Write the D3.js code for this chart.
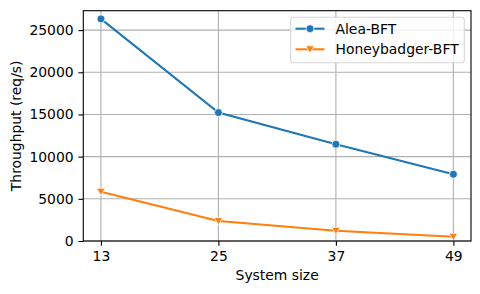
<!DOCTYPE html>
<html>
<head>
<meta charset="utf-8">
<script src="https://cdn.jsdelivr.net/npm/d3@7"></script>
<style>
  body { margin: 0; background: #fff; }
  svg text { font-family: "DejaVu Sans", sans-serif; }
  .tick text { font-size: 13.9px; fill: #000; }
  .grid line { stroke: #b0b0b0; stroke-width: 1.1; }
</style>
</head>
<body>
<div class="chart"></div>
<script>
const sizes = [13, 25, 37, 49]
const alea = [26330, 15220, 11470, 7910]
const honeybadger = [5850, 2370, 1220, 510]
const yTicks = [0, 5000, 10000, 15000, 20000, 25000]

const width = 480
const height = 294
const margin = { left: 83.3, right: 9, top: 10.7, bottom: 53 }
const tick = 4.86

const series = [
  { name: 'Alea-BFT', values: alea, color: '#1f77b4', marker: 'circle' },
  { name: 'Honeybadger-BFT', values: honeybadger, color: '#ff7f0e', marker: 'tri' }
]

let xScale = d3.scaleLinear()
  .domain([11.2, 50.8])
  .range([margin.left, width - margin.right])

let yScale = d3.scaleLinear()
  .domain([0, 27300])
  .range([height - margin.bottom, margin.top])

let svg = d3.select('.chart')
  .append('svg')
  .attr('width', width)
  .attr('height', height)

// grid
svg.append('g').attr('class', 'grid')
  .selectAll('line').data(sizes).enter().append('line')
  .attr('x1', d => xScale(d)).attr('x2', d => xScale(d))
  .attr('y1', yScale.range()[0]).attr('y2', yScale.range()[1])

svg.append('g').attr('class', 'grid')
  .selectAll('line').data(yTicks).enter().append('line')
  .attr('x1', xScale.range()[0]).attr('x2', xScale.range()[1])
  .attr('y1', d => yScale(d)).attr('y2', d => yScale(d))

const xAxis = d3.axisBottom(xScale).tickValues(sizes).tickSize(tick).tickPadding(tick).tickSizeOuter(0)
const yAxis = d3.axisLeft(yScale).tickValues(yTicks).tickFormat(d3.format('d')).tickSize(tick).tickPadding(tick).tickSizeOuter(0)

let gx = svg.append('g')
  .attr('transform', 'translate(0,' + (height - margin.bottom) + ')')
  .call(xAxis)
let gy = svg.append('g')
  .attr('transform', 'translate(' + margin.left + ',0)')
  .call(yAxis)
;[gx, gy].forEach(g => {
  g.select('.domain').remove()
  g.selectAll('.tick line').attr('stroke', '#000').attr('stroke-width', 1.1)
})

// lines + markers
const tri = (x, y, s) => {
  return 'M' + (x - s) + ',' + (y - s * 0.8) + 'L' + (x + s) + ',' + (y - s * 0.8) + 'L' + x + ',' + (y + s * 0.9) + 'Z'
}
const drawMarker = (g, m, x, y, color) => {
  if (m === 'circle') {
    g.append('circle').attr('cx', x).attr('cy', y).attr('r', 4)
      .attr('fill', color).attr('stroke', '#fff').attr('stroke-width', 0.8)
  } else {
    g.append('path').attr('d', tri(x, y, 4.3))
      .attr('fill', color).attr('stroke', '#fff').attr('stroke-width', 0.8)
  }
}

let line = d3.line().x(d => xScale(d[0])).y(d => yScale(d[1]))

series.forEach(s => {
  const pts = sizes.map((x, i) => [x, s.values[i]])
  svg.append('path')
    .datum(pts)
    .attr('d', line)
    .attr('fill', 'none')
    .attr('stroke', s.color)
    .attr('stroke-width', 2.08)
  let mg = svg.append('g')
  pts.forEach(p => drawMarker(mg, s.marker, xScale(p[0]), yScale(p[1]), s.color))
})

// frame
svg.append('rect')
  .attr('x', margin.left).attr('y', margin.top)
  .attr('width', width - margin.left - margin.right)
  .attr('height', height - margin.top - margin.bottom)
  .attr('fill', 'none').attr('stroke', '#000').attr('stroke-width', 1.1)

// axis labels
svg.append('text')
  .attr('x', (margin.left + width - margin.right) / 2)
  .attr('y', 280)
  .attr('text-anchor', 'middle')
  .style('font-size', '13.9px')
  .text('System size')

svg.append('text')
  .attr('transform', 'translate(20.5,' + ((margin.top + height - margin.bottom) / 2) + ') rotate(-90)')
  .attr('text-anchor', 'middle')
  .style('font-size', '13.9px')
  .text('Throughput (req/s)')

// legend
let legend = svg.append('g')
legend.append('rect')
  .attr('x', 290.7).attr('y', 17.3)
  .attr('width', 173.6).attr('height', 45.4)
  .attr('rx', 2.8)
  .attr('fill', 'rgba(255,255,255,0.8)')
  .attr('stroke', '#d6d6d6').attr('stroke-width', 1.1)

series.forEach((s, i) => {
  const y = 28.7 + i * 20.6
  legend.append('line')
    .attr('x1', 295.5).attr('x2', 324.5)
    .attr('y1', y).attr('y2', y)
    .attr('stroke', s.color).attr('stroke-width', 2.08)
  drawMarker(legend, s.marker, 310, y, s.color)
  legend.append('text')
    .attr('x', 335.5).attr('y', y + 5)
    .style('font-size', '13.9px')
    .text(s.name)
})
</script>
</body>
</html>
